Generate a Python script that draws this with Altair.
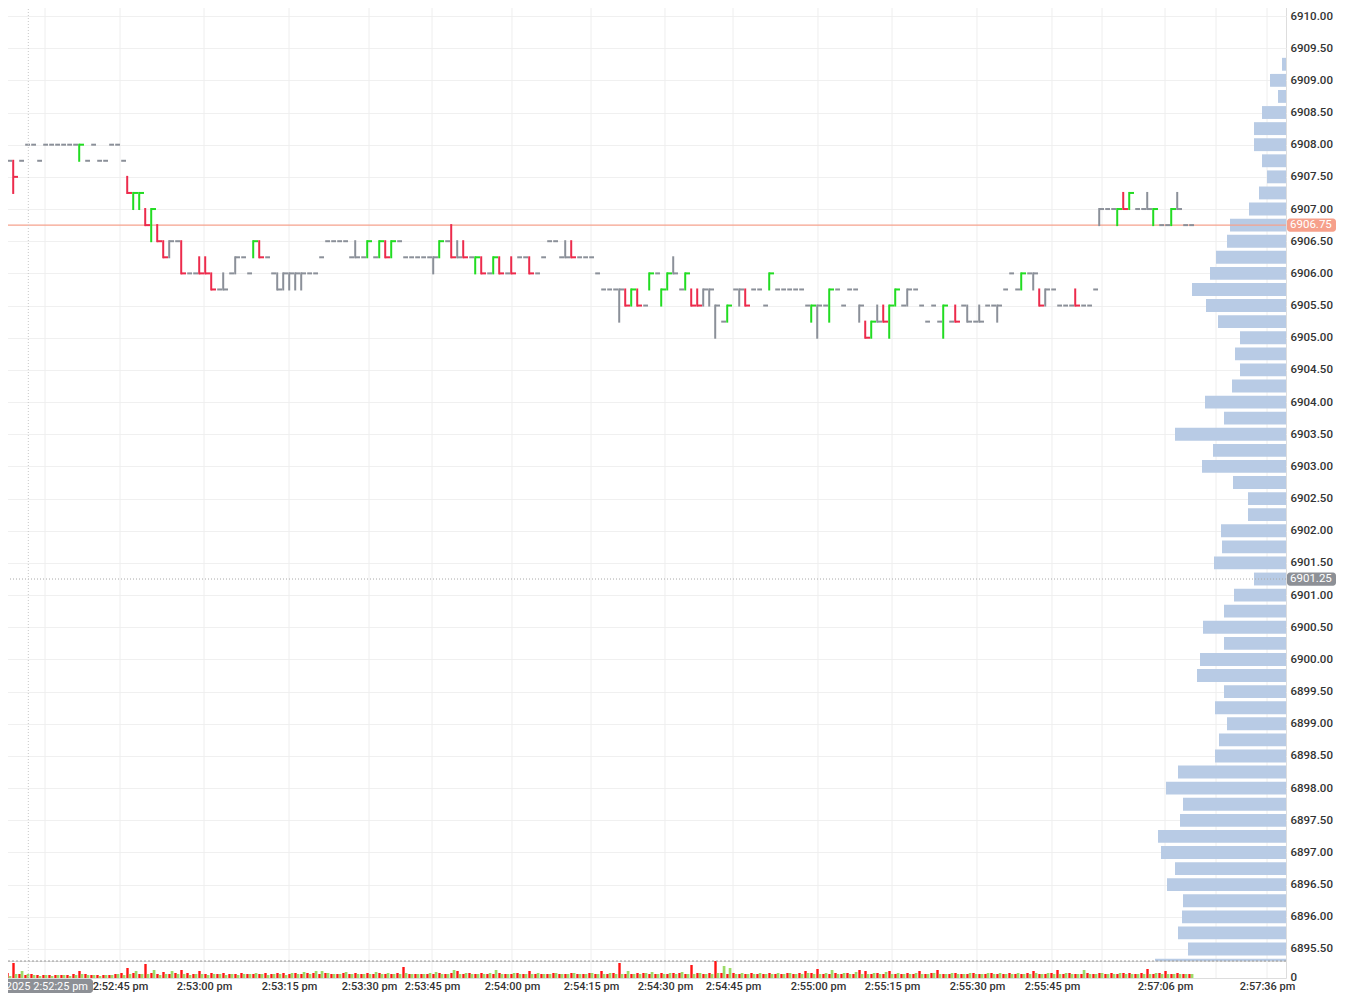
import altair as alt
import pandas as pd

# ---------------- price bars (1-second bars); prices given in ticks above TICK_BASE
TICK_BASE = 6905.00
TICK_SIZE = 0.25

open_ticks = [13,11,11,11,12,12,11,12,12,12,
              12,12,12,11,11,12,11,11,12,12,
              11,10,8,8,8,6,7,6,6,6,
              6,4,4,5,5,4,3,3,4,5,
              5,4,5,6,5,4,3,4,4,4,
              4,4,4,5,6,6,6,6,5,5,
              5,5,5,5,6,5,6,5,5,5,
              5,5,5,5,6,6,5,6,5,4,
              5,4,4,5,4,5,5,5,5,4,
              5,6,6,5,5,6,5,5,5,4,
              3,3,3,3,3,2,3,2,3,4,
              2,3,4,3,3,3,3,3,3,2,
              1,1,3,3,3,3,3,2,3,3,
              3,3,3,3,2,1,2,2,1,3,
              2,3,3,2,1,0,1,2,0,2,
              2,3,3,2,1,2,1,0,1,2,
              2,1,1,1,2,2,2,3,4,3,
              3,4,4,3,3,3,2,2,2,3,
              2,2,3,8,8,8,7,9,8,8,
              8,8,7,7,7,7,8,7,7]
high_ticks = [13,11,11,11,12,12,11,12,12,12,
              12,12,12,12,11,12,11,11,12,12,
              11,10,9,9,8,8,7,6,6,6,
              6,4,4,5,5,4,3,4,4,5,
              5,4,6,6,5,4,4,4,4,4,
              4,4,4,5,6,6,6,6,5,6,
              5,6,5,6,6,6,6,5,5,5,
              5,5,5,6,6,7,6,6,5,5,
              5,4,5,5,4,5,5,5,5,4,
              5,6,6,5,6,6,5,5,5,4,
              3,3,3,3,3,3,3,2,4,4,
              3,4,5,3,4,3,3,3,3,2,
              1,2,3,3,3,3,3,2,4,3,
              3,3,3,3,2,2,2,2,3,3,
              2,3,3,2,1,1,2,2,2,3,
              2,3,3,2,1,2,1,2,1,2,
              2,2,1,2,2,2,2,3,4,3,
              4,4,4,3,3,3,2,2,2,3,
              2,2,3,8,8,8,8,9,9,8,
              8,9,8,7,7,8,9,7,7]
low_ticks = [12,11,9,11,12,12,11,12,12,12,
             12,12,12,11,11,12,11,11,12,12,
             11,9,8,8,7,6,6,5,5,6,
             4,4,4,4,4,3,3,3,4,4,
             5,4,5,5,5,4,3,3,3,3,
             3,4,4,5,6,6,6,6,5,5,
             5,5,5,5,5,5,6,5,5,5,
             5,5,4,5,6,5,5,5,5,4,
             4,4,4,4,4,4,5,5,4,4,
             5,6,6,5,5,5,5,5,5,4,
             3,3,3,1,2,2,2,2,3,4,
             2,3,4,3,3,2,2,2,2,0,
             1,1,3,2,2,3,3,2,3,3,
             3,3,3,3,2,1,0,2,1,3,
             2,3,3,1,0,0,1,1,0,2,
             2,2,3,2,1,2,1,0,1,1,
             2,1,1,1,2,2,1,3,4,3,
             3,4,3,2,2,3,2,2,2,2,
             2,2,3,7,8,8,7,8,8,8,
             8,8,7,7,7,7,8,7,7]
close_ticks = [12,11,10,11,12,12,11,12,12,12,
               12,12,12,12,11,12,11,11,12,12,
               11,9,9,9,7,8,6,5,6,6,
               4,4,4,4,4,3,3,3,4,5,
               5,4,6,5,5,4,3,4,4,4,
               4,4,4,5,6,6,6,6,5,5,
               5,6,5,6,5,6,6,5,5,5,
               5,5,5,6,6,5,5,5,5,5,
               4,4,5,4,4,4,5,5,4,4,
               5,6,6,5,5,5,5,5,5,4,
               3,3,3,3,2,3,2,2,4,4,
               3,4,4,3,4,2,2,3,3,2,
               1,2,3,3,2,3,3,2,4,3,
               3,3,3,3,2,2,2,2,3,3,
               2,3,3,2,0,1,1,1,2,3,
               2,3,3,2,1,2,1,2,1,1,
               2,1,1,1,2,2,2,3,4,3,
               4,4,4,2,3,3,2,2,2,2,
               2,2,3,8,8,8,8,8,9,8,
               8,8,8,7,7,8,8,7,7]

# ---------------- per-bar volume (sell = red, buy = green)
sell_volume = [5,5,15,4,3,4,3,3,3,3,
               3,3,4,7,4,3,3,3,3,4,
               5,10,5,4,14,5,4,6,4,5,
               8,5,4,7,4,5,4,5,4,4,
               5,4,4,4,5,4,5,5,4,5,
               4,5,5,4,5,4,4,5,4,5,
               4,5,4,5,4,4,5,11,4,4,
               4,4,4,5,4,5,7,4,5,4,
               5,4,4,5,4,4,5,4,7,4,
               4,4,5,4,4,5,4,4,5,4,
               7,4,5,15,4,4,5,5,4,4,
               5,4,5,5,4,13,5,4,5,17,
               5,4,5,4,4,5,4,4,5,4,
               4,5,4,5,7,5,9,4,4,5,
               4,5,4,8,7,4,5,4,7,4,
               4,5,4,7,4,5,8,4,4,5,
               4,4,5,4,4,5,4,4,5,4,
               4,5,7,4,4,5,8,4,5,4,
               4,5,4,5,4,5,4,5,5,4,
               5,9,4,5,7,4,5,4,4]
buy_volume = [3,2,4,7,4,3,2,3,2,3,
              3,2,3,4,3,3,2,3,3,4,
              3,4,7,4,4,8,3,4,7,4,
              4,3,4,4,3,4,4,3,4,3,
              4,4,5,4,3,4,4,3,5,4,
              6,4,7,7,5,4,4,6,4,4,
              4,4,6,4,5,4,4,5,4,4,
              4,5,6,4,4,8,4,5,4,4,
              4,5,8,4,4,5,4,4,4,5,
              4,4,5,4,4,5,4,4,5,4,
              4,5,4,4,7,4,4,5,6,4,
              4,5,4,6,4,4,5,4,4,5,
              12,10,4,5,4,4,5,4,4,5,
              4,5,4,4,5,4,4,5,8,4,
              5,4,6,4,4,5,4,6,4,5,
              4,4,5,4,4,5,4,4,5,4,
              4,5,4,4,5,4,5,4,4,5,
              4,4,5,4,5,4,4,5,4,4,
              8,4,4,5,4,4,5,4,4,4,
              4,4,5,4,4,4,4,4,4]

# ---------------- volume profile (right side)
profile_prices = [6909.25, 6909.00, 6908.75, 6908.50, 6908.25, 6908.00, 6907.75, 6907.50,
                  6907.25, 6907.00, 6906.75, 6906.50, 6906.25, 6906.00, 6905.75, 6905.50,
                  6905.25, 6905.00, 6904.75, 6904.50, 6904.25, 6904.00, 6903.75, 6903.50,
                  6903.25, 6903.00, 6902.75, 6902.50, 6902.25, 6902.00, 6901.75, 6901.50,
                  6901.25, 6901.00, 6900.75, 6900.50, 6900.25, 6900.00, 6899.75, 6899.50,
                  6899.25, 6899.00, 6898.75, 6898.50, 6898.25, 6898.00, 6897.75, 6897.50,
                  6897.25, 6897.00, 6896.75, 6896.50, 6896.25, 6896.00, 6895.75, 6895.50,
                  6895.25]
profile_volume = [4, 16, 8, 24, 32, 32, 24, 19,
                  27, 37, 56, 59, 70, 76, 94, 80,
                  68, 46, 51, 46, 54, 81, 62, 111,
                  73, 84, 53, 38, 38, 65, 64, 72,
                  32, 52, 62, 83, 62, 86, 89, 62,
                  71, 59, 67, 71, 108, 120, 103, 106,
                  128, 125, 111, 119, 103, 104, 108, 98,
                  131]

# ---------------- axes
price_tick_values = [6895.5, 6896.0, 6896.5, 6897.0, 6897.5, 6898.0, 6898.5, 6899.0,
                     6899.5, 6900.0, 6900.5, 6901.0, 6901.5, 6902.0, 6902.5, 6903.0,
                     6903.5, 6904.0, 6904.5, 6905.0, 6905.5, 6906.0, 6906.5, 6907.0,
                     6907.5, 6908.0, 6908.5, 6909.0, 6909.5, 6910.0]
time_label_index = [20, 34, 48.17, 61.5, 72, 85.33, 98.5, 110.83, 122.17, 136.33,
                    148.67, 162.83, 175.33, 194.17, 211.17]
time_labels = ["2:52:45 pm", "2:53:00 pm", "2:53:15 pm", "2:53:30 pm", "2:53:45 pm",
               "2:54:00 pm", "2:54:15 pm", "2:54:30 pm", "2:54:45 pm", "2:55:00 pm",
               "2:55:15 pm", "2:55:30 pm", "2:55:45 pm", "2:57:06 pm", "2:57:36 pm"]
grid_index = [7.5, 20, 34, 48.17, 61.5, 72, 85.33, 98.5, 110.83, 122.17, 136.33,
              148.67, 162.83, 175.33, 183.67, 194.17, 202.67, 211.17]

LAST_PRICE = 6906.75
CURSOR_PRICE = 6901.25
CURSOR_INDEX = 4.72
CURSOR_TIME = "/2025 2:52:25 pm"

# ---------------- layout constants
W = 1286
H_PRICE = 961
H_VOL = 17
X_MAX = 214.33
PRICE_LO, PRICE_HI = 6895.3135, 6910.2487
VOL_MAX = 17
PROFILE_SPAN = 1286
FONT = "Roboto"

RED = "#ec2b4c"
GREEN = "#22dc22"
GRAY = "#8b9099"

n = len(open_ticks)
assert all(len(a) == n for a in [high_ticks, low_ticks, close_ticks, sell_volume, buy_volume])
assert len(profile_prices) == len(profile_volume)

rows = []
for i in range(n):
    o = TICK_BASE + TICK_SIZE * open_ticks[i]
    c = TICK_BASE + TICK_SIZE * close_ticks[i]
    h = TICK_BASE + TICK_SIZE * high_ticks[i]
    lo = TICK_BASE + TICK_SIZE * low_ticks[i]
    d = "up" if c > o else ("down" if c < o else "flat")
    rows.append(dict(i=i, o=o, c=c, lo=min(lo, o, c), hi=max(h, o, c), d=d,
                     xv=i + 0.2, xe=i + 1.0))
bars = pd.DataFrame(rows)
vert = bars[bars.hi > bars.lo]

vol = pd.DataFrame({"i": list(range(n)), "sell": sell_volume, "buy": buy_volume})
vol["sx"] = vol.i + 0.05
vol["sx2"] = vol.i + 0.45
vol["bx"] = vol.i + 0.45
vol["bx2"] = vol.i + 0.9

prof = pd.DataFrame({"p": profile_prices, "v": profile_volume})
prof["lo"] = prof.p - 0.1
prof["hi"] = prof.p + 0.1

grid_df = pd.DataFrame({"g": grid_index})

xs = alt.Scale(domain=[0, X_MAX], nice=False, zero=False)
ys = alt.Scale(domain=[PRICE_LO, PRICE_HI], nice=False, zero=False)
dir_scale = alt.Scale(domain=["up", "down", "flat"], range=[GREEN, RED, GRAY])

price_axis = alt.Axis(orient="right", values=price_tick_values, format=".2f", title=None,
                      ticks=False, domain=False, grid=True, gridColor="#f0f0f0",
                      gridWidth=1, labelFont=FONT, labelFontSize=11.5, labelColor="#333333",
                      labelFontWeight=500, labelPadding=4)


def py(field):
    return alt.Y(field, type="quantitative", scale=ys, axis=price_axis)


def tx(field):
    return alt.X(field, type="quantitative", scale=xs, axis=None)


grid_top = alt.Chart(grid_df).mark_rule(color="#eeeeee", strokeWidth=1).encode(x=tx("g"))

profile = alt.Chart(prof).mark_rect(color="#b8cbe5", clip=True).encode(
    x=alt.X("v:Q", scale=alt.Scale(domain=[0, PROFILE_SPAN], reverse=True, nice=False, zero=False),
            axis=None),
    x2=alt.datum(0),
    y=py("lo"),
    y2="hi:Q",
)

last_line = alt.Chart(pd.DataFrame({"p": [LAST_PRICE]})).mark_rule(
    color="#f6a28d", strokeWidth=1.2).encode(y=py("p"))
cursor_h = alt.Chart(pd.DataFrame({"p": [CURSOR_PRICE]})).mark_rule(
    color="#a8a8a8", strokeWidth=1, strokeDash=[1, 2]).encode(y=py("p"))

vert_rules = alt.Chart(vert).mark_rule(strokeWidth=2, strokeCap="square").encode(
    x=tx("xv"), y=py("lo"), y2="hi:Q",
    color=alt.Color("d:N", scale=dir_scale, legend=None))
horiz_rules = alt.Chart(bars).mark_rule(strokeWidth=2, strokeCap="butt").encode(
    x=tx("xv"), x2="xe:Q", y=py("c"),
    color=alt.Color("d:N", scale=dir_scale, legend=None))

cursor_v_top = alt.Chart(pd.DataFrame({"x": [CURSOR_INDEX]})).mark_rule(
    color="#c8c8c8", strokeWidth=1, strokeDash=[1, 2]).encode(x=tx("x"))

last_box_df = pd.DataFrame({"p": [LAST_PRICE], "lo": [LAST_PRICE - 0.103],
                            "hi": [LAST_PRICE + 0.103], "t": ["6906.75"]})
cur_box_df = pd.DataFrame({"p": [CURSOR_PRICE], "lo": [CURSOR_PRICE - 0.103],
                           "hi": [CURSOR_PRICE + 0.103], "t": ["6901.25"]})

last_box = alt.Chart(last_box_df).mark_rect(color="#f6a08b", cornerRadius=3).encode(
    x=alt.value(W + 1), x2=alt.value(W + 50), y=py("lo"), y2="hi:Q")
last_txt = alt.Chart(last_box_df).mark_text(align="left", baseline="middle", color="white",
                                            font=FONT, fontSize=11.5).encode(
    x=alt.value(W + 4), y=py("p"), text="t:N")
cur_box = alt.Chart(cur_box_df).mark_rect(color="#8d9096", cornerRadius=3).encode(
    x=alt.value(W + 1), x2=alt.value(W + 50), y=py("lo"), y2="hi:Q")
cur_txt = alt.Chart(cur_box_df).mark_text(align="left", baseline="middle", color="white",
                                          font=FONT, fontSize=11.5).encode(
    x=alt.value(W + 4), y=py("p"), text="t:N")

top = alt.layer(
    grid_top, profile, last_line, cursor_h, vert_rules, horiz_rules, cursor_v_top,
    last_box, last_txt, cur_box, cur_txt
).resolve_scale(x="independent").properties(width=W, height=H_PRICE)

# ---------------- volume pane
label_expr = " : ".join(f"datum.value == {v} ? '{t}'" for v, t in zip(time_label_index, time_labels)) + " : ''"
x_axis = alt.Axis(values=time_label_index, labelExpr=label_expr, title=None, ticks=False,
                  domain=False, grid=False, labelFont=FONT, labelFontSize=11,
                  labelColor="#333333", labelFontWeight=500, labelPadding=2,
                  labelFlush=False, labelOverlap=False)
vs = alt.Scale(domain=[0, VOL_MAX], nice=False, zero=True)
v_axis = alt.Axis(orient="right", values=[0], format="d", title=None, ticks=False, domain=False,
                  grid=False, labelFont=FONT, labelFontSize=11.5, labelColor="#333333",
                  labelFontWeight=500, labelPadding=4, labelOffset=-1)


def bx(field):
    return alt.X(field, type="quantitative", scale=xs, axis=x_axis)


def vy(field):
    return alt.Y(field, type="quantitative", scale=vs, axis=v_axis)


grid_bot = alt.Chart(grid_df).mark_rule(color="#eeeeee", strokeWidth=1).encode(x=bx("g"))
sell_bars = alt.Chart(vol).mark_rect(color="#ff1414", clip=True).encode(
    x=bx("sx"), x2="sx2:Q", y=vy("sell"), y2=alt.datum(0))
buy_bars = alt.Chart(vol).mark_rect(color="#9cdb68", clip=True).encode(
    x=bx("bx"), x2="bx2:Q", y=vy("buy"), y2=alt.datum(0))
separator = alt.Chart(pd.DataFrame({"a": [0]})).mark_rule(
    color="#9a9a9a", strokeWidth=1, strokeDash=[2, 2]).encode(
    y=alt.Y(datum=VOL_MAX, type="quantitative", scale=vs, axis=v_axis))
cursor_v_bot = alt.Chart(pd.DataFrame({"x": [CURSOR_INDEX]})).mark_rule(
    color="#c8c8c8", strokeWidth=1, strokeDash=[1, 2]).encode(x=bx("x"))
time_box = alt.Chart(pd.DataFrame({"t": [CURSOR_TIME]})).mark_rect(
    color="#8d9096", cornerRadius=3).encode(
    x=alt.value(0), x2=alt.value(93), y=alt.value(H_VOL + 1), y2=alt.value(H_VOL + 15))
time_txt = alt.Chart(pd.DataFrame({"t": [CURSOR_TIME]})).mark_text(
    align="right", baseline="middle", color="white", font=FONT, fontSize=11).encode(
    x=alt.value(88), y=alt.value(H_VOL + 8.5), text="t:N")

bottom = alt.layer(
    grid_bot, sell_bars, buy_bars, separator, cursor_v_bot, time_box, time_txt
).properties(width=W, height=H_VOL)

chart = alt.vconcat(top, bottom, spacing=0, bounds="flush").properties(
    padding={"left": -10, "top": -9, "right": 0, "bottom": 0}
).configure_view(stroke="transparent").configure(font=FONT, background="white")

chart.save("out.html", embed_options={"renderer": "svg", "actions": False})
